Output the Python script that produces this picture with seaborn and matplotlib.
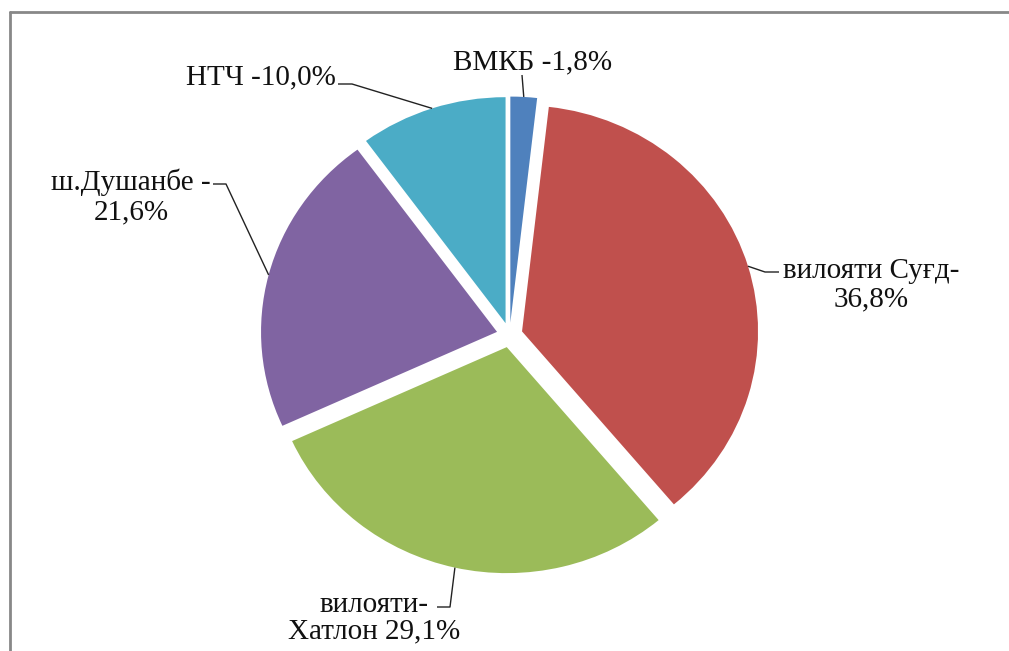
import matplotlib
matplotlib.use("Agg")
import matplotlib.pyplot as plt
import seaborn as sns
import numpy as np
from matplotlib.lines import Line2D

# ---- data ----
categories = ["ВМКБ", "вилояти Суғд", "вилояти Хатлон", "ш.Душанбе", "НТЧ"]
values = [1.8, 36.8, 29.1, 21.6, 10.0]
label_texts = ["ВМКБ -1,8%", "вилояти Суғд-\n36,8%", "вилояти-\nХатлон 29,1%",
               "ш.Душанбе -\n21,6%", "НТЧ -10,0%"]
colors = ["#4F81BD", "#C0504D", "#9BBB59", "#8064A2", "#4BACC6"]

# ---- layout (pixels, image coords: origin top-left) ----
W, H = 1009, 651
center_px = (509.6, 335.0)
rx_px, ry_px = 236.0, 226.0
# text anchor (x, y), ha, linespacing and leader path points (text end, elbow)
label_layout = [
    dict(xy=(533, 62), ha="center", ls=1.1, path=[(522, 75)]),
    dict(xy=(871, 285), ha="center", ls=1.1, path=[(779, 272), (765, 272)]),
    dict(xy=(374, 618), ha="center", ls=1.05, path=[(437, 607), (450, 607)]),
    dict(xy=(131, 197), ha="center", ls=1.2, path=[(213, 184), (226, 184)]),
    dict(xy=(336, 77), ha="right", ls=1.1, path=[(338, 84), (352, 84)]),
]

sns.set_theme(style="white")
plt.rcParams["font.family"] = ["Liberation Serif", "DejaVu Serif"]

fig = plt.figure(figsize=(W / 100, H / 100), dpi=100)
fig.patch.set_facecolor("white")
ax = fig.add_axes([0, 0, 1, 1])

wedges, _ = ax.pie(values, colors=colors, startangle=90, counterclock=False,
                   explode=[0.055] * len(values), radius=1.0,
                   wedgeprops=dict(linewidth=0))
ax.set_aspect("auto")
cx, cy = center_px
ax.set_xlim(-cx / rx_px, (W - cx) / rx_px)
ax.set_ylim(-(H - cy) / ry_px, cy / ry_px)
ax.axis("off")

inv = ax.transData.inverted()


def px2data(p):
    return inv.transform((p[0], H - p[1]))


for w, txt, lay in zip(wedges, label_texts, label_layout):
    mid = np.deg2rad((w.theta1 + w.theta2) / 2)
    anchor = (w.center[0] + w.r * np.cos(mid), w.center[1] + w.r * np.sin(mid))
    pts = [px2data(p) for p in lay["path"]] + [anchor]
    xs, ys = zip(*pts)
    ax.plot(xs, ys, color="#222222", lw=1.0, solid_capstyle="butt")
    tx, ty = px2data(lay["xy"])
    ax.text(tx, ty, txt, ha=lay["ha"], va="center", multialignment="center",
            fontsize=21, color="#111111", linespacing=lay["ls"])

# outer frame (partially visible)
frame_col = "#888888"
fig.add_artist(Line2D([9.7 / W, 1.0], [1 - 11.5 / H, 1 - 11.5 / H],
                      transform=fig.transFigure, color=frame_col, lw=2.0))
fig.add_artist(Line2D([9.7 / W, 9.7 / W], [0.0, 1 - 11.5 / H],
                      transform=fig.transFigure, color=frame_col, lw=2.0))

fig.savefig("out.png", dpi=100, facecolor="white")
